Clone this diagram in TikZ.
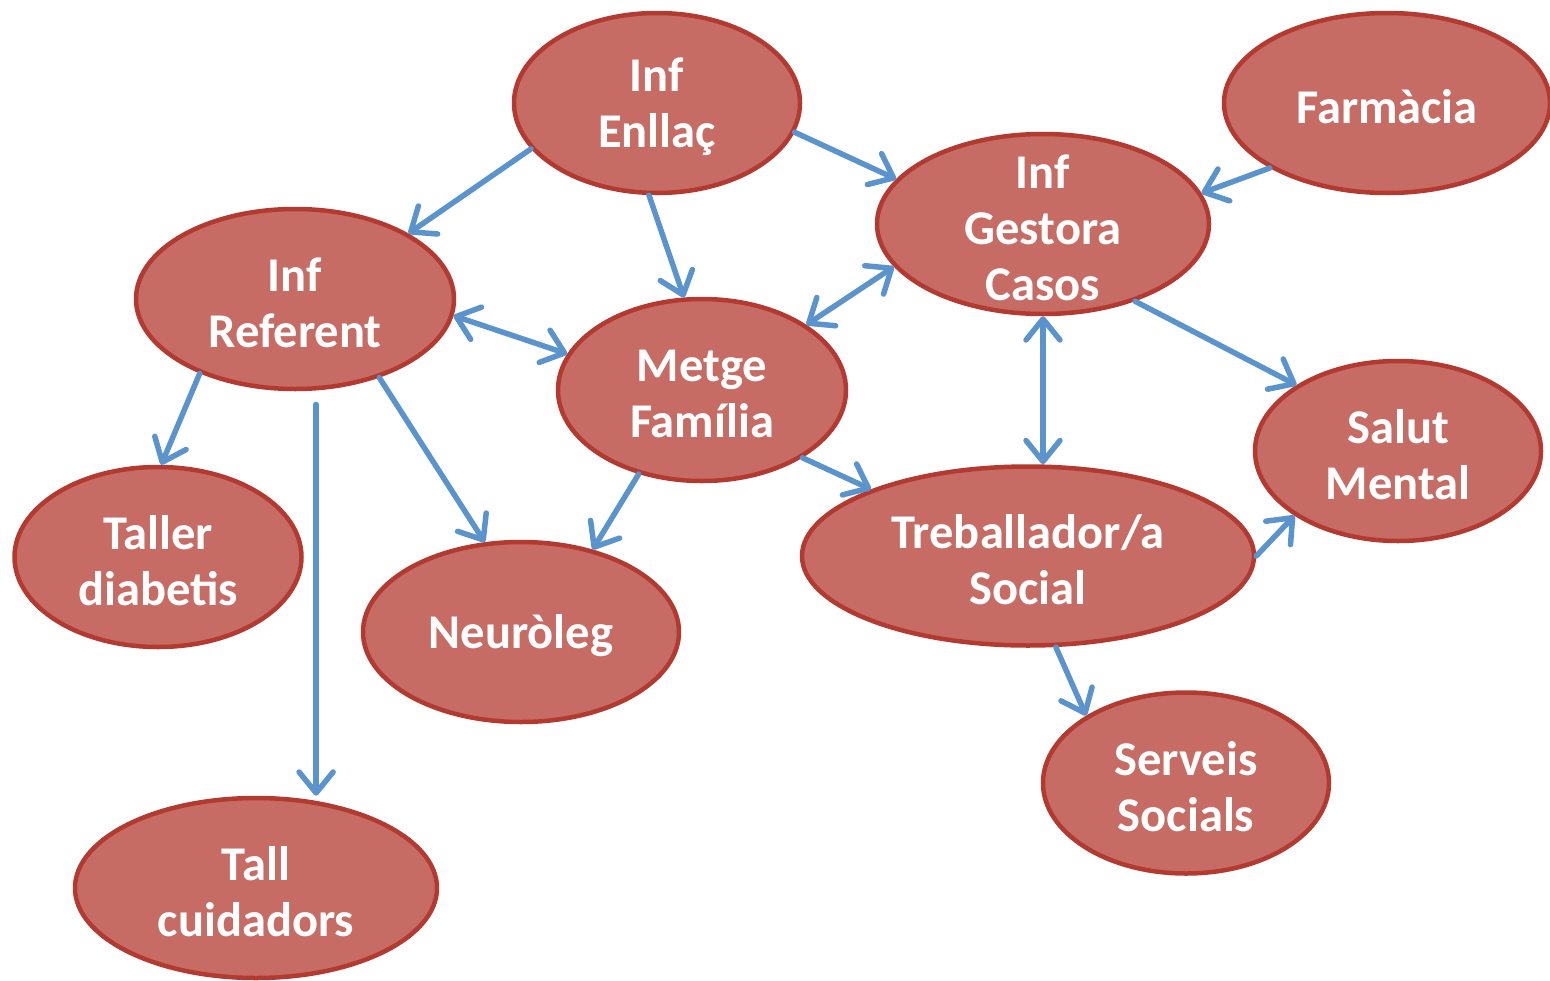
\documentclass[tikz,border=0pt]{standalone}
\usepackage{fontspec}
\setmainfont{Carlito}
\usetikzlibrary{shapes.geometric,arrows.meta}
\definecolor{nodefill}{RGB}{198,108,101}
\definecolor{nodeborder}{RGB}{178,58,48}
\definecolor{arrowblue}{RGB}{91,148,204}
\begin{document}
\begin{tikzpicture}[x=1pt,y=-1pt,
  bubble/.style={ellipse, draw=nodeborder, fill=nodefill, line width=4.5pt, inner sep=0pt},
  txt/.style={text=white, font=\bfseries\fontsize{48.5}{56}\selectfont, align=center, inner sep=0pt, yshift=-4pt},
  arr/.style={draw=arrowblue, line width=5.5pt, line cap=round, -{Straight Barb[length=21pt,width=34pt,round]}},
  darr/.style={draw=arrowblue, line width=5.5pt, line cap=round, {Straight Barb[length=21pt,width=34pt,round]}-{Straight Barb[length=21pt,width=34pt,round]}}
]
\useasboundingbox (0,0) rectangle (1550,980);

\node[bubble, minimum width=286pt, minimum height=180pt] (enllac) at (657,103) {};
\node[bubble, minimum width=326pt, minimum height=180pt] (farm) at (1387,103) {};
\node[bubble, minimum width=332pt, minimum height=180pt] (gestora) at (1043,224) {};
\node[bubble, minimum width=318pt, minimum height=180pt] (ref) at (295,299) {};
\node[bubble, minimum width=288pt, minimum height=182pt] (metge) at (702,390) {};
\node[bubble, minimum width=286pt, minimum height=180pt] (salut) at (1398,451) {};
\node[bubble, minimum width=452pt, minimum height=179pt] (treb) at (1028,556) {};
\node[bubble, minimum width=287pt, minimum height=180pt] (taller) at (158,557) {};
\node[bubble, minimum width=316pt, minimum height=180pt] (neuro) at (521,632) {};
\node[bubble, minimum width=286pt, minimum height=181pt] (serveis) at (1186,783) {};
\node[bubble, minimum width=362pt, minimum height=180pt] (tall) at (256,888) {};

\node[txt] (tenllac) at (enllac.center) {Inf\\Enllaç};
\node[txt] (tfarm) at (farm.center) {Farmàcia};
\node[txt] (tgestora) at (gestora.center) {Inf\\Gestora\\Casos};
\node[txt] (tref) at (ref.center) {Inf\\Referent};
\node[txt] (tmetge) at (metge.center) {Metge\\Família};
\node[txt] (tsalut) at (salut.center) {Salut\\Mental};
\node[txt] (ttreb) at (treb.center) {Treballador/a\\Social};
\node[txt] (ttaller) at (taller.center) {Taller\\diabetis};
\node[txt] (tneuro) at (neuro.center) {Neuròleg};
\node[txt] (tserveis) at (serveis.center) {Serveis\\Socials};
\node[txt] (ttall) at (tall.center) {Tall\\cuidadors};

\draw[arr] (enllac.200) -- (ref.30);
\draw[arr] (enllac.265.6) -- (metge.101.5);
\draw[arr] (enllac.348.7) -- (gestora.163);
\draw[arr] (farm.209.5) -- (gestora.11);
\draw[darr] (ref.354) -- (metge.165.3);
\draw[darr] (metge.32.3) -- (gestora.196.7);
\draw[darr] (gestora.south) -- (gestora.south |- treb.north);
\draw[arr] (gestora.320.4) -- (salut.147.4);
\draw[arr] (ref.218) -- (taller.88.8);
\draw[arr, shorten <=14pt] (ref.283.6) -- (ref.283.6 |- tall.north);
\draw[arr] (ref.317.8) -- (neuro.112.4);
\draw[arr] (metge.233.6) -- (neuro.49.2);
\draw[arr] (metge.326.6) -- (treb.157.5);
\draw[arr] (treb.0) -- (salut.212.5);
\draw[arr] (treb.287.5) -- (serveis.146.4);
\end{tikzpicture}
\end{document}
